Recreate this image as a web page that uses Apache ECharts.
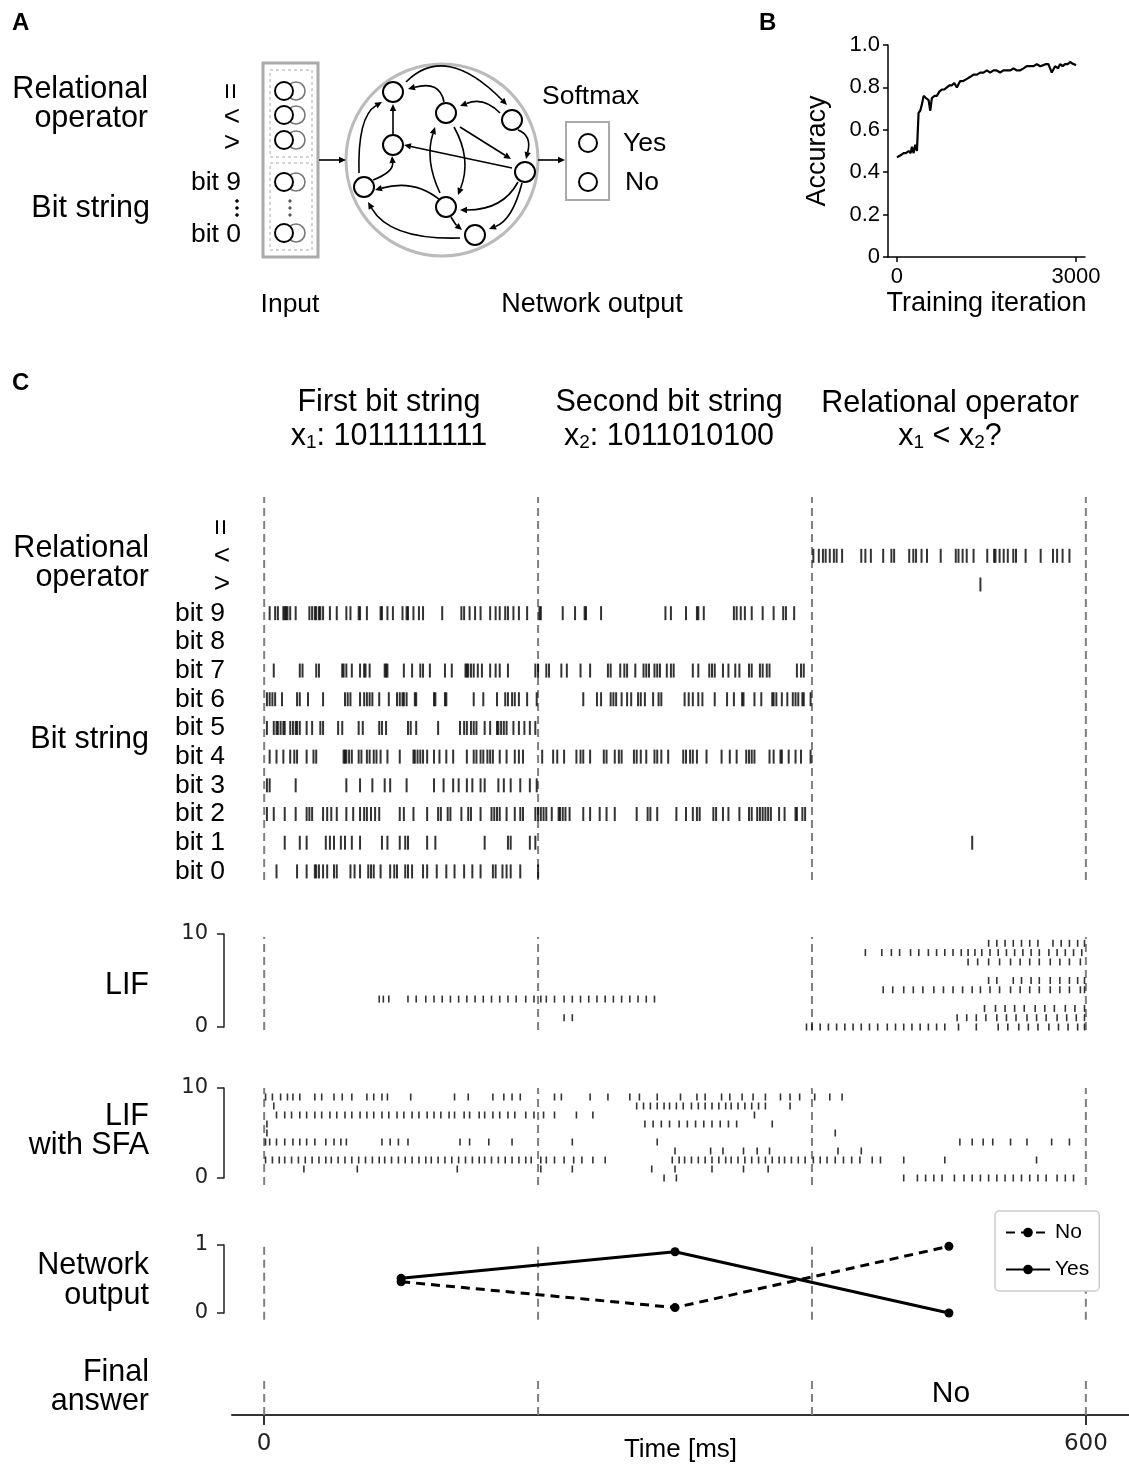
<!DOCTYPE html>
<html>
<head>
<meta charset="utf-8">
<script src="https://cdn.jsdelivr.net/npm/echarts@6/dist/echarts.min.js"></script>
<style>
  html,body{margin:0;padding:0;background:#fff;}
  #main{width:1129px;height:1465px;}
</style>
</head>
<body>
<div id="main"></div>
<script>
// ---------------- data ----------------
// panel B: training curve
var accIter = [0,60,112,150,195,230,251,279,307,335,362,390,418,446,485,530,558,585,630,669,710,753,795,836,880,920,960,1004,1059,1110,1171,1230,1282,1340,1394,1450,1506,1560,1617,1670,1729,1780,1840,1900,1952,2010,2063,2120,2175,2230,2290,2342,2400,2453,2500,2537,2593,2649,2700,2732,2775,2816,2860,2900,2955,3000];
var accVal  = [0.47,0.48,0.49,0.49,0.50,0.49,0.52,0.49,0.53,0.50,0.68,0.69,0.72,0.76,0.75,0.74,0.69,0.75,0.76,0.76,0.78,0.79,0.79,0.80,0.81,0.81,0.82,0.80,0.83,0.83,0.84,0.85,0.86,0.86,0.87,0.87,0.88,0.87,0.88,0.88,0.87,0.88,0.88,0.88,0.89,0.88,0.88,0.89,0.90,0.90,0.90,0.91,0.90,0.905,0.91,0.91,0.87,0.90,0.89,0.91,0.90,0.91,0.91,0.92,0.91,0.905];

// panel C: input spikes [ms]
var spEq   = [];
var spLt   = [401,405,408,410,413,416,418,422,436,439,443,452,458,460,471,474,476,480,484,494,505,507,510,513,518,528,533,534,537,540,543,547,549,556,567,576,579,583,588];
var spGt   = [523];
var spBit9 = [4,8,10,14,15,16,17,19,23,33,35,37,38,40,41,43,48,53,60,63,69,70,75,85,86,90,94,101,104,105,109,113,116,130,144,146,150,154,158,165,169,172,176,178,182,186,192,201,202,218,227,234,235,246,293,297,308,316,317,321,343,345,348,351,356,364,372,379,381,387];
var spBit8 = [];
var spBit7 = [7,26,28,38,40,57,58,60,64,70,73,74,77,88,89,90,102,108,114,116,121,132,137,147,148,149,151,153,156,159,165,169,172,178,198,200,206,208,217,221,231,238,251,253,260,263,265,271,277,279,281,285,287,289,294,297,299,313,317,325,327,329,335,339,344,347,354,356,362,364,367,369,389,392,394];
var spBit6 = [2,4,6,8,13,24,26,32,43,59,61,63,70,73,75,77,79,84,91,97,99,101,102,104,110,111,124,125,132,133,153,160,170,176,178,181,183,186,192,199,233,243,246,253,255,257,261,265,268,273,275,278,284,288,290,307,310,313,317,320,329,338,343,349,350,358,363,371,372,374,378,382,386,388,390,393,394,399];
var spBit5 = [2,7,9,10,12,14,15,19,21,23,24,26,31,35,41,43,54,57,69,72,84,86,89,105,107,111,127,143,146,148,151,153,155,161,165,170,171,173,175,177,182,186,190,194,198];
var spBit4 = [4,9,14,19,22,24,31,36,38,58,59,60,62,64,69,71,75,77,80,82,85,90,99,109,110,112,114,116,119,124,128,133,138,148,153,155,158,160,163,165,167,172,177,183,186,189,203,211,214,219,228,231,233,238,248,250,256,259,261,270,272,275,279,285,287,290,295,306,308,311,313,316,323,334,340,345,352,354,356,358,369,372,377,378,383,388,392,399];
var spBit3 = [2,4,23,60,70,79,88,92,104,124,131,138,142,148,152,158,161,171,175,180,187,194,199];
var spBit2 = [2,7,15,23,31,33,35,43,46,49,53,60,65,70,73,75,78,81,84,99,102,109,119,127,129,134,136,144,149,151,158,166,168,170,172,177,183,187,189,198,200,202,204,206,210,215,216,218,220,223,233,238,245,250,256,272,280,282,287,301,308,313,316,318,328,330,335,339,347,354,356,360,362,364,366,368,370,376,380,388,389,393,395];
var spBit1 = [15,26,31,45,48,51,56,59,64,70,86,90,99,103,105,119,125,161,178,180,194,198,517];
var spBit0 = [9,24,31,37,38,40,43,46,51,53,63,66,70,76,78,80,85,92,95,97,103,105,108,116,119,126,133,139,146,152,158,167,169,174,177,180,187,200];

// LIF neurons
var lif0 = [396,400,406,412,418,424,430,436,442,448,455,461,467,473,479,485,491,497,507,520,536,543,551,558,565,573,580,587,594,599];
var lif1 = [219,225,506,513,520,527,535,542,549,557,564,571,579,586,593,599];
var lif2 = [526,534,541,548,555,563,570,577,585,592,599];
var lif3 = [84,87,91,105,111,118,124,130,136,142,148,154,160,166,172,178,184,191,197,202,206,212,219,225,231,237,243,249,255,261,267,273,279,285];
var lif4 = [452,459,467,474,481,489,496,503,510,517,523,530,537,545,552,559,566,574,581,588,596,599];
var lif5 = [529,535,547,553,560,566,574,581,588,594,599];
var lif6 = [];
var lif7 = [514,521,529,537,545,552,559,566,574,581,588,596];
var lif8 = [439,451,458,464,472,478,485,491,497,503,509,514,519,524,530,536,542,548,554,560,566,573,579,585,591,597];
var lif9 = [529,535,541,547,553,559,565,576,582,588,594,599];

// LIF with SFA neurons
var sfa0 = [292,301,467,477,483,489,495,504,511,517,523,529,535,541,547,553,559,565,571,579,585,591];
var sfa1 = [29,68,141,202,225,283,300,327,350,368];
var sfa2 = [1,6,11,15,20,25,30,35,40,45,49,54,59,64,69,74,79,84,88,93,98,103,108,113,118,122,127,132,137,142,147,152,157,161,166,171,176,181,186,191,195,202,206,212,219,226,232,240,249,298,303,307,312,317,322,327,332,337,341,346,351,356,361,366,371,376,380,385,390,395,401,406,411,417,423,429,435,444,450,467,497,564];
var sfa3 = [300,326,335,350,360,369,419,436];
var sfa4 = [1,4,9,15,21,26,31,37,45,51,56,60,86,92,98,105,143,150,164,181,225,287,508,517,525,532,545,557,575,588];
var sfa5 = [2,417];
var sfa6 = [2,278,284,290,296,303,309,315,321,327,333,339,345,371];
var sfa7 = [9,15,20,26,31,37,42,48,53,59,64,70,75,80,86,91,97,102,108,113,119,124,129,135,139,146,150,157,161,167,172,178,183,191,197,204,212,228,240,358];
var sfa8 = [7,272,277,282,287,292,296,301,306,312,317,322,327,332,337,341,346,351,356,361,366,384];
var sfa9 = [1,6,12,17,21,26,37,42,51,57,64,75,80,86,90,107,139,149,167,175,181,187,212,217,238,251,267,274,287,304,316,322,334,340,349,357,366,377,384,391,402,413,422];

// network output (softmax)
var netTime = [100, 300, 500];
var netYes  = [0.51, 0.90, 0.0];
var netNo   = [0.46, 0.08, 0.98];

var phaseEdges = [0, 200, 400, 600];
var rasterLabels = ['bit 0','bit 1','bit 2','bit 3','bit 4','bit 5','bit 6','bit 7','bit 8','bit 9','>','<','='];

// ---------------- helpers ----------------
var FONT = '"Liberation Sans", Arial, sans-serif';
var TICKFONT = '"DejaVu Sans", sans-serif';

function rowsToData(rows){
	var out=[];
	for(var r=0;r<rows.length;r++){
		for(var k=0;k<rows[r].length;k++){ out.push([rows[r][k], r]); }
	}
	return out;
}
function spikeSeries(g, rows, w, h){
	return {type:'scatter', xAxisIndex:g, yAxisIndex:g, symbol:'rect', symbolSize:[w,h],
		itemStyle:{color:'#000'}, data:rowsToData(rows), clip:false, silent:true, z:3};
}
function dashSeries(g, y0, y1){
	return phaseEdges.map(function(x){
		return {type:'line', xAxisIndex:g, yAxisIndex:g, data:[[x,y0],[x,y1]], symbol:'none',
			clip:false, silent:true, z:1, lineStyle:{color:'#808080', width:2, type:[8,5]}};
	});
}
function txt(x,y,s,size,align,extra){
	var e={type:'text', x:x, y:y, style:{text:s, font:size+'px '+FONT, fill:'#000',
		align:align||'center', textAlign:align||'center', verticalAlign:'middle', textVerticalAlign:'middle'}};
	if(extra){ for(var k in extra){ e[k]=extra[k]; } }
	return e;
}
function circ(cx,cy,r,stroke,lw,fill){
	return {type:'circle', shape:{cx:cx,cy:cy,r:r}, style:{fill:fill||'#fff', stroke:stroke||'#000', lineWidth:lw||2}};
}
function arrow(x1,y1,xm,ym,x2,y2){
	var cx=2*xm-(x1+x2)/2, cy=2*ym-(y1+y2)/2;
	var dx=x2-cx, dy=y2-cy, L=Math.sqrt(dx*dx+dy*dy)||1; dx/=L; dy/=L;
	var hl=7, hw=3.2, bx=x2-dx*hl, by=y2-dy*hl;
	return [
		{type:'bezierCurve', shape:{x1:x1,y1:y1,x2:bx,y2:by,cpx1:cx,cpy1:cy}, style:{stroke:'#000', lineWidth:1.6, fill:'none'}},
		{type:'polygon', shape:{points:[[x2,y2],[bx-dy*hw,by+dx*hw],[bx+dy*hw,by-dx*hw]]}, style:{fill:'#000'}}
	];
}
function yBracket(g, max, interval){
	return {gridIndex:g, type:'value', min:0, max:max, interval:interval, offset:8,
		axisLine:{show:true, onZero:false, lineStyle:{color:'#222', width:1.5}},
		axisTick:{show:true, length:7, lineStyle:{color:'#222', width:1.5}},
		axisLabel:{fontSize:21, fontFamily:TICKFONT, color:'#222', margin:16},
		splitLine:{show:false}};
}
function xHidden(g){
	return {gridIndex:g, type:'value', min:-23.5, max:631.5, show:false};
}
function grid(l,t,w,h){
	return {left:l, top:t, width:w, height:h, outerBoundsMode:'none', containLabel:false};
}

// ---------------- panel A diagram ----------------
var G=[];
G.push(txt(12,23,'A',24,'left',null)); G[G.length-1].style.font='bold 24px '+FONT;
G.push(txt(759,23,'B',24,'left',null)); G[G.length-1].style.font='bold 24px '+FONT;
G.push(txt(12,383,'C',24,'left',null)); G[G.length-1].style.font='bold 24px '+FONT;

G.push(txt(148,90,'Relational',30.5,'right'));
G.push(txt(148,119,'operator',30.5,'right'));
G.push(txt(150,209,'Bit string',30.5,'right'));
G.push(txt(232,91,'=',28,'center',{rotation:Math.PI/2}));
G.push(txt(232,117,'<',28,'center'));
G.push(txt(232,143,'>',28,'center'));
G.push(txt(241,183,'bit 9',26.5,'right'));
G.push(txt(241,235,'bit 0',26.5,'right'));
[201,208,215].forEach(function(y){ G.push(circ(237,y,1.3,'#000',1,'#000')); G.push(circ(290,y,1.2,'#555',1,'#555')); });

G.push({type:'rect', shape:{x:263,y:63,width:55,height:194}, style:{fill:'none', stroke:'#aaa', lineWidth:3}});
G.push({type:'rect', shape:{x:270,y:70,width:42,height:87}, style:{fill:'none', stroke:'#aaa', lineWidth:1, lineDash:[3,3]}});
G.push({type:'rect', shape:{x:270,y:163,width:42,height:87}, style:{fill:'none', stroke:'#aaa', lineWidth:1, lineDash:[3,3]}});
[91,115,140,182,233].forEach(function(y){ G.push(circ(296,y,9,'#777',1.6)); G.push(circ(284,y,9,'#000',2)); });

G.push(circ(442,160,96,'#bbb',3));
var nodes=[[393,92],[446,113],[512,120],[393,145],[525,172],[364,187],[446,207],[475,235]];
var arrowDefs=[
	[406,82,451,68,507,105],[444,102,433,88,408,89],[500,113,482,103,460,106],[518,130,527,140,526,159],
	[460,127,485.5,143,511,159],[512,168,458,156.5,404,145],[393,134,393,119,393,104],[359,173,364,127,382,102],
	[373,180,388,170,392,156],[440,193,431,160,435,127],[454,127,464,160,458,195],[440,200,411,187,375,190],
	[518,182,496,203,460,210],[522,183,509,213,489,229],[451,217,456,224,462,230],[460,238,402,230,368,202],
	[319,160,332,160,346,160],[538,160,551,160,565,160]
];
arrowDefs.forEach(function(a){ G=G.concat(arrow(a[0],a[1],a[2],a[3],a[4],a[5])); });
nodes.forEach(function(n){ G.push(circ(n[0],n[1],10,'#000',2)); });

G.push({type:'rect', shape:{x:566,y:122,width:43,height:78}, style:{fill:'none', stroke:'#aaa', lineWidth:2}});
G.push(circ(588,143,9,'#000',2)); G.push(circ(588,182,9,'#000',2));
G.push(txt(542,97,'Softmax',26.5,'left'));
G.push(txt(623,144,'Yes',26.5,'left'));
G.push(txt(625,183,'No',26.5,'left'));
G.push(txt(290,305,'Input',26.5,'center'));
G.push(txt(592,305,'Network output',27,'center'));

// ---------------- panel C texts ----------------
var rich={a:{fontSize:30.5, fontFamily:FONT, verticalAlign:'bottom'}, s:{fontSize:19, fontFamily:FONT, verticalAlign:'bottom'}};
G.push(txt(389,403,'First bit string',30.5,'center'));
G.push(txt(669,403,'Second bit string',30.5,'center'));
G.push(txt(950,404,'Relational operator',30.5,'center'));
[[389,'{a|x}{s|1}{a|: 1011111111}'],[669,'{a|x}{s|2}{a|: 1011010100}'],[950,'{a|x}{s|1}{a| < x}{s|2}{a|?}']].forEach(function(t){
	var e=txt(t[0],437,t[1],30.5,'center'); e.style.rich=rich; G.push(e);
});

G.push(txt(149,549,'Relational',30.5,'right'));
G.push(txt(149,578,'operator',30.5,'right'));
G.push(txt(149,740,'Bit string',30.5,'right'));
G.push(txt(149,986,'LIF',30.5,'right'));
G.push(txt(149,1117,'LIF',30.5,'right'));
G.push(txt(149,1146,'with SFA',30.5,'right'));
G.push(txt(149,1266,'Network',30.5,'right'));
G.push(txt(149,1296,'output',30.5,'right'));
G.push(txt(149,1373,'Final',30.5,'right'));
G.push(txt(149,1402,'answer',30.5,'right'));
G.push(txt(951,1394,'No',30,'center'));

// raster row labels, placed at the row positions of the raster grid
var rasterTop=497, rasterH=383, rMin=-0.3, rMax=13.05;
rasterLabels.forEach(function(lbl,i){
	var y=rasterTop+(rMax-i)/(rMax-rMin)*rasterH;
	if(i>=10){
		G.push(txt(222,y,lbl,28,'center', lbl==='=' ? {rotation:Math.PI/2} : null));
	}else{
		G.push(txt(225,y,lbl,26.5,'right'));
	}
});

// ---------------- chart ----------------
var myChart=echarts.init(document.getElementById('main'),null,{renderer:'canvas'});

var series=[];
series.push({type:'line', xAxisIndex:0, yAxisIndex:0, symbol:'none', silent:true,
	lineStyle:{color:'#000', width:2.2}, data:accIter.map(function(x,i){return [x,accVal[i]];})});
series.push(spikeSeries(1,[spBit0,spBit1,spBit2,spBit3,spBit4,spBit5,spBit6,spBit7,spBit8,spBit9,spGt,spLt,spEq],2,14));
series=series.concat(dashSeries(1,rMin,rMax));
series.push(spikeSeries(2,[lif0,lif1,lif2,lif3,lif4,lif5,lif6,lif7,lif8,lif9],1.6,7));
series=series.concat(dashSeries(2,-0.32,9.68));
series.push(spikeSeries(3,[sfa0,sfa1,sfa2,sfa3,sfa4,sfa5,sfa6,sfa7,sfa8,sfa9],1.6,7));
series=series.concat(dashSeries(3,-0.78,10));
series=series.concat(dashSeries(4,-0.1,1.0));
series.push({name:'No', type:'line', xAxisIndex:4, yAxisIndex:4, symbol:'circle', symbolSize:9, clip:false,
	itemStyle:{color:'#000'}, lineStyle:{color:'#000', width:3, type:[9,6]}, data:netTime.map(function(t,i){return [t,netNo[i]];}), z:4});
series.push({name:'Yes', type:'line', xAxisIndex:4, yAxisIndex:4, symbol:'circle', symbolSize:9, clip:false,
	itemStyle:{color:'#000'}, lineStyle:{color:'#000', width:3}, data:netTime.map(function(t,i){return [t,netYes[i]];}), z:4});
series=series.concat(dashSeries(5,0,1));

var option={
	animation:false,
	backgroundColor:'#fff',
	textStyle:{fontFamily:FONT},
	grid:[
		grid(888,45,197,212),
		grid(232,rasterTop,897,rasterH),
		grid(232,934,897,93),
		grid(232,1088,897,90),
		grid(232,1245,897,68),
		grid(232,1377,897,38)
	],
	xAxis:[
		{gridIndex:0, type:'value', min:-150, max:3150,
			axisLine:{show:true, onZero:false, lineStyle:{color:'#000', width:1.5}},
			axisTick:{show:true, customValues:[0,3000], length:5, lineStyle:{color:'#000', width:1.5}},
			axisLabel:{customValues:[0,3000], fontSize:22, fontFamily:FONT, color:'#000', margin:9,
				formatter:function(v){ return String(v); }},
			splitLine:{show:false},
			name:'Training iteration', nameLocation:'middle', nameGap:33, nameMoveOverlap:false,
			nameTextStyle:{fontSize:27, fontFamily:FONT, color:'#000'}},
		xHidden(1), xHidden(2), xHidden(3), xHidden(4),
		{gridIndex:5, type:'value', min:-23.5, max:631.5,
			axisLine:{show:true, onZero:false, lineStyle:{color:'#333', width:2}},
			axisTick:{show:true, customValues:[0,600], length:10, lineStyle:{color:'#333', width:2}},
			axisLabel:{customValues:[0,600], fontSize:23, fontFamily:TICKFONT, color:'#222', margin:18,
				formatter:function(v){ return String(v); }},
			splitLine:{show:false},
			name:'Time [ms]', nameLocation:'middle', nameGap:22, nameMoveOverlap:false,
			nameTextStyle:{fontSize:26, fontFamily:FONT, color:'#000'}}
	],
	yAxis:[
		{gridIndex:0, type:'value', min:0, max:1, interval:0.2,
			axisLine:{show:true, onZero:false, lineStyle:{color:'#000', width:1.5}},
			axisTick:{show:true, length:5, lineStyle:{color:'#000', width:1.5}},
			axisLabel:{fontSize:22, fontFamily:FONT, color:'#000', margin:8,
				formatter:function(v){ return v===0 ? '0' : v.toFixed(1); }},
			splitLine:{show:false},
			name:'Accuracy', nameLocation:'middle', nameRotate:90, nameGap:57, nameMoveOverlap:false,
			nameTextStyle:{fontSize:27, fontFamily:FONT, color:'#000'}},
		{gridIndex:1, type:'value', min:rMin, max:rMax, show:false},
		yBracket(2,10,10),
		yBracket(3,10,10),
		yBracket(4,1,1),
		{gridIndex:5, type:'value', min:0, max:1, show:false}
	],
	legend:{
		data:['No','Yes'], orient:'vertical', left:995, top:1211,
		itemWidth:44, itemHeight:12, itemGap:16, padding:[11,10,11,10],
		borderColor:'#ccc', borderWidth:1.5, borderRadius:4, backgroundColor:'#fff',
		textStyle:{fontSize:21, fontFamily:FONT, color:'#000'}
	},
	graphic:{elements:G},
	series:series
};
myChart.setOption(option);
</script>
</body>
</html>
